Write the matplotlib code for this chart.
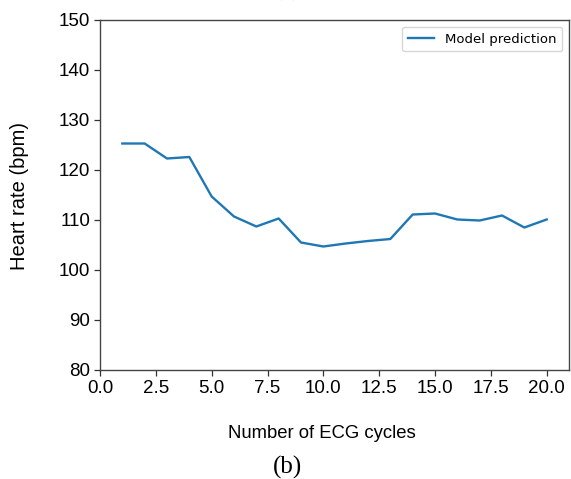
import matplotlib
matplotlib.use("Agg")
import matplotlib.pyplot as plt

cycles = [1, 2, 3, 4, 5, 6, 7, 8, 9, 10, 11, 12, 13, 14, 15, 16, 17, 18, 19, 20]
heart_rate = [125.3, 125.3, 122.3, 122.6, 114.7, 110.7, 108.7, 110.3, 105.5, 104.7,
              105.3, 105.8, 106.2, 111.1, 111.3, 110.1, 109.9, 110.9, 108.5, 110.1]
series_label = "Model prediction"
x_label = "Number of ECG cycles"
y_label = "Heart rate (bpm)"
panel_label = "(b)"

W, H = 571, 479
fig = plt.figure(figsize=(W / 100, H / 100), dpi=100)
ax = fig.add_axes([100 / W, 1 - 370 / H, 469 / W, 350 / H])

ax.plot(cycles, heart_rate, color="#1f77b4", lw=1.7, label=series_label)
ax.set_xlim(0, 21)
ax.set_ylim(80, 150)
ax.set_xticks([0, 2.5, 5, 7.5, 10, 12.5, 15, 17.5, 20])
ax.set_yticks([80, 90, 100, 110, 120, 130, 140, 150])
tfont = dict(family=["Liberation Sans", "DejaVu Sans"], size=13.5)
ax.set_xticklabels([f"{v:.1f}" for v in ax.get_xticks()], **tfont)
ax.set_yticklabels([f"{int(v)}" for v in ax.get_yticks()], **tfont)
ax.tick_params(length=4, width=0.9, color="#333333", pad=3)
for s in ax.spines.values():
    s.set_color("#444444")
    s.set_linewidth(1.0)

leg = ax.legend(loc="upper right", fontsize=9.5, frameon=True, borderpad=0.45,
                handlelength=2.0, borderaxespad=0.5)
leg.get_frame().set_edgecolor("#cccccc")

fig.text(20 / W, 1 - 196 / H, y_label, rotation=90, ha="center", va="center",
         fontsize=14.5, family=["Liberation Sans", "DejaVu Sans"])
fig.text(322 / W, 1 - 433 / H, x_label, ha="center", va="center",
         fontsize=13.3, family=["Liberation Sans", "DejaVu Sans"])
fig.text(288 / W, 1 - 467 / H, panel_label, ha="center", va="center",
         fontsize=18, family=["Liberation Serif", "DejaVu Serif"])
fig.text(288 / W, 1 - (-11) / H, "(a)", ha="center", va="center",
         fontsize=18, family=["Liberation Serif", "DejaVu Serif"], color="#999999")

fig.savefig("out.png", dpi=100)
